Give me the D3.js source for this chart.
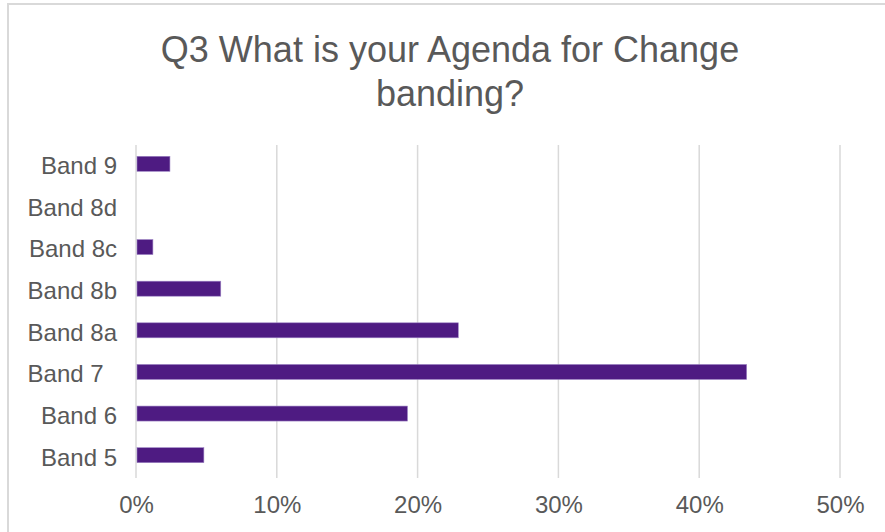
<!DOCTYPE html>
<html>
<head>
<meta charset="utf-8">
<script src="https://cdn.jsdelivr.net/npm/d3@7"></script>
<style>
  html, body { margin: 0; padding: 0; background: #fff; }
  svg { display: block; }
  text { font-family: "Liberation Sans", Arial, sans-serif; fill: #595959; white-space: pre; }
</style>
</head>
<body>
<svg id="chart" width="885" height="532"></svg>
<script>
// Survey answers, top row first
const categories = ["Band 9", "Band 8d", "Band 8c", "Band 8b", "Band 8a", "Band 7  ", "Band 6", "Band 5"];
const shares = [0.0241, 0, 0.0120, 0.0602, 0.2289, 0.4337, 0.1928, 0.0482];
const tickValues = [0, 0.1, 0.2, 0.3, 0.4, 0.5];
const titleLines = ["Q3 What is your Agenda for Change", "banding?"];

const svg = d3.select("#chart");
const W = 885, H = 532;
const plot = { left: 136, right: 840, top: 145, bottom: 478 };

// Chart frame
svg.append("path")
  .attr("d", `M8,${H} L8,4 L${W},4`)
  .attr("fill", "none")
  .attr("stroke", "#d9d9d9")
  .attr("stroke-width", 2);

// Title
svg.append("text")
  .attr("x", 450)
  .attr("text-anchor", "middle")
  .style("font-size", "36px")
  .selectAll("tspan")
  .data(titleLines)
  .join("tspan")
  .attr("x", 450)
  .attr("y", (d, i) => 62 + i * 44)
  .text(d => d);

const x = d3.scaleLinear().domain([0, 0.5]).range([plot.left, plot.right]);
const y = d3.scaleBand().domain(categories).range([plot.top - 2, plot.bottom - 2]);

// Vertical gridlines
svg.append("g")
  .selectAll("line")
  .data(tickValues)
  .join("line")
  .attr("x1", d => x(d))
  .attr("x2", d => x(d))
  .attr("y1", plot.top)
  .attr("y2", plot.bottom)
  .attr("stroke", "#d9d9d9")
  .attr("stroke-width", 1.5);

// X axis labels
const xAxis = d3.axisBottom(x).tickValues(tickValues).tickFormat(d3.format(".0%")).tickSize(0).tickPadding(0);
const gx = svg.append("g").attr("transform", `translate(0,${plot.bottom})`).call(xAxis);
gx.select(".domain").remove();
gx.selectAll("text")
  .attr("y", 35)
  .attr("dy", 0)
  .style("font-size", "24px")
  .attr("fill", "#595959");

// Y axis labels
const yAxis = d3.axisLeft(y).tickSize(0).tickPadding(0);
const gy = svg.append("g").attr("transform", "translate(117,2)").call(yAxis);
gy.select(".domain").remove();
gy.selectAll("text")
  .attr("x", 0)
  .attr("dy", "0.35em")
  .style("font-size", "24px")
  .attr("fill", "#595959")
  .attr("xml:space", "preserve");

// Bars
const barH = y.bandwidth() * 0.36;
svg.append("g")
  .selectAll("rect")
  .data(categories.map((c, i) => ({ c, v: shares[i] })).filter(d => d.v > 0))
  .join("rect")
  .attr("x", x(0) + 1)
  .attr("y", d => y(d.c) + (y.bandwidth() - barH) / 2)
  .attr("width", d => x(d.v) - x(0) - 1)
  .attr("height", barH)
  .attr("fill", "#4e1b82")
  .attr("stroke", "#9c82c4")
  .attr("stroke-width", 0.6);
</script>
</body>
</html>
